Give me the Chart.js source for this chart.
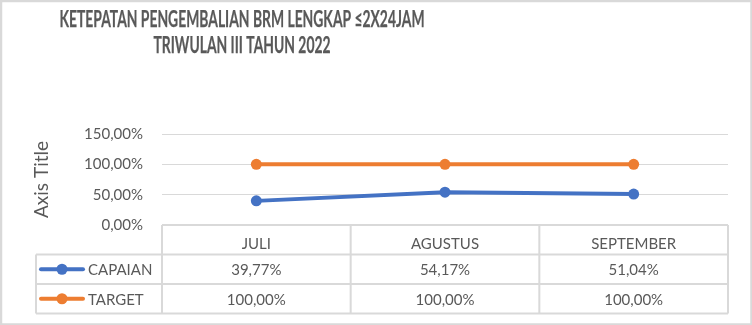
<!DOCTYPE html>
<html>
<head>
<meta charset="utf-8">
<script src="https://cdn.jsdelivr.net/npm/chart.js@4.4.0/dist/chart.umd.min.js"></script>
<style>
  body { margin: 0; background: #fff; }
  #wrap { width: 752px; height: 325px; }
</style>
</head>
<body>
<div id="wrap"><canvas id="grafica" width="752" height="325"></canvas></div>
<script>
const judul = ['KETEPATAN PENGEMBALIAN BRM LENGKAP \u22642X24JAM', 'TRIWULAN III TAHUN 2022'];
const bulan = ['JULI', 'AGUSTUS', 'SEPTEMBER'];
const capaian = [39.77, 54.17, 51.04];
const target = [100, 100, 100];
const namaSeri = ['CAPAIAN', 'TARGET'];
const warnaSeri = ['#4472C4', '#ED7D31'];

const abu = '#595959';
const garis = '#d9d9d9';
const huruf = 'Lato, "Open Sans", sans-serif';

function persen(v) {
    return v.toFixed(2).replace('.', ',') + '%';
}

// judul, bingkai dan tabel data di bawah grafik
const tabelPlugin = {
    id: 'tabelData',
    beforeDraw(chart) {
        const ctx = chart.ctx;
        ctx.save();
        ctx.fillStyle = '#fff';
        ctx.fillRect(0, 0, chart.width, chart.height);
        ctx.restore();
    },
    afterDraw(chart) {
        const ctx = chart.ctx;
        const area = chart.chartArea;
        const x = chart.scales.x;
        const top = area.bottom;
        const rowH = 29.5;
        const kiri = 36;
        const baris = [top + rowH, top + rowH * 2, top + rowH * 3];

        ctx.save();
        // bingkai luar
        ctx.strokeStyle = garis;
        ctx.lineWidth = 2.5;
        ctx.strokeRect(1, 1, chart.width - 1.5, chart.height - 1.5);

        // judul
        ctx.fillStyle = abu;
        ctx.strokeStyle = abu;
        ctx.lineWidth = 0.25;
        ctx.textAlign = 'center';
        ctx.textBaseline = 'alphabetic';
        ctx.font = 'bold 23px ' + huruf;
        const skala = 365 / ctx.measureText(judul[0]).width;
        [27, 53].forEach(function (y, i) {
            ctx.save();
            ctx.translate(242, y);
            ctx.scale(skala, 1);
            ctx.fillText(judul[i], 0, 0);
            ctx.strokeText(judul[i], 0, 0);
            ctx.restore();
        });

        // garis tabel
        ctx.strokeStyle = garis;
        ctx.lineWidth = 2;
        ctx.beginPath();
        ctx.moveTo(area.left, top);
        ctx.lineTo(area.right, top);
        baris.forEach(function (y) {
            ctx.moveTo(kiri, y);
            ctx.lineTo(area.right, y);
        });
        const batas = [area.left];
        for (let i = 0; i < bulan.length - 1; i++) {
            batas.push((x.getPixelForValue(i) + x.getPixelForValue(i + 1)) / 2);
        }
        batas.push(area.right);
        batas.forEach(function (bx) {
            ctx.moveTo(bx, top);
            ctx.lineTo(bx, baris[2]);
        });
        ctx.moveTo(kiri, baris[0]);
        ctx.lineTo(kiri, baris[2]);
        ctx.stroke();

        // isi tabel
        const seri = [capaian, target];
        ctx.font = '15px ' + huruf;
        ctx.textBaseline = 'middle';
        seri.forEach(function (data, r) {
            const yc = baris[r] + rowH / 2;
            // penanda legenda
            ctx.strokeStyle = warnaSeri[r];
            ctx.lineWidth = 4;
            ctx.lineCap = 'round';
            ctx.beginPath();
            ctx.moveTo(41, yc);
            ctx.lineTo(83, yc);
            ctx.stroke();
            ctx.fillStyle = warnaSeri[r];
            ctx.beginPath();
            ctx.arc(62, yc, 5.5, 0, Math.PI * 2);
            ctx.fill();
            ctx.fillStyle = abu;
            ctx.textAlign = 'left';
            ctx.fillText(namaSeri[r], 88, yc + 1);
            ctx.textAlign = 'center';
            data.forEach(function (v, i) {
                ctx.fillText(persen(v), x.getPixelForValue(i), yc + 1);
            });
        });
        ctx.restore();
    }
};

const ctx = document.getElementById('grafica').getContext('2d');
new Chart(ctx, {
    type: 'line',
    data: {
        labels: bulan,
        datasets: [
            {
                label: namaSeri[0],
                data: capaian,
                borderColor: warnaSeri[0],
                backgroundColor: warnaSeri[0],
                borderWidth: 4,
                pointRadius: 5.5,
                pointBorderWidth: 0,
                fill: false,
                tension: 0
            },
            {
                label: namaSeri[1],
                data: target,
                borderColor: warnaSeri[1],
                backgroundColor: warnaSeri[1],
                borderWidth: 4,
                pointRadius: 5.5,
                pointBorderWidth: 0,
                fill: false,
                tension: 0
            }
        ]
    },
    options: {
        responsive: false,
        animation: false,
        layout: { padding: { top: 134, right: 24, bottom: 0, left: 0 } },
        plugins: {
            legend: { display: false },
            title: { display: false },
            tooltip: { enabled: false }
        },
        scales: {
            x: {
                offset: true,
                grid: { display: false },
                border: { display: false },
                ticks: {
                    color: abu,
                    font: { family: huruf, size: 15 },
                    padding: 2,
                    maxRotation: 0
                },
                afterFit(scale) { scale.height = 100; }
            },
            y: {
                min: 0,
                max: 150,
                ticks: {
                    stepSize: 50,
                    color: abu,
                    font: { family: huruf, size: 15 },
                    padding: 19,
                    callback: function (v) { return persen(v); }
                },
                grid: { color: garis, lineWidth: 1, drawTicks: false },
                border: { display: false },
                title: {
                    display: true,
                    text: 'Axis Title',
                    color: abu,
                    font: { family: huruf, size: 19 },
                    padding: { top: 30, bottom: 0 }
                },
                afterFit(scale) { scale.width = 162; }
            }
        }
    },
    plugins: [tabelPlugin]
});
</script>
</body>
</html>
